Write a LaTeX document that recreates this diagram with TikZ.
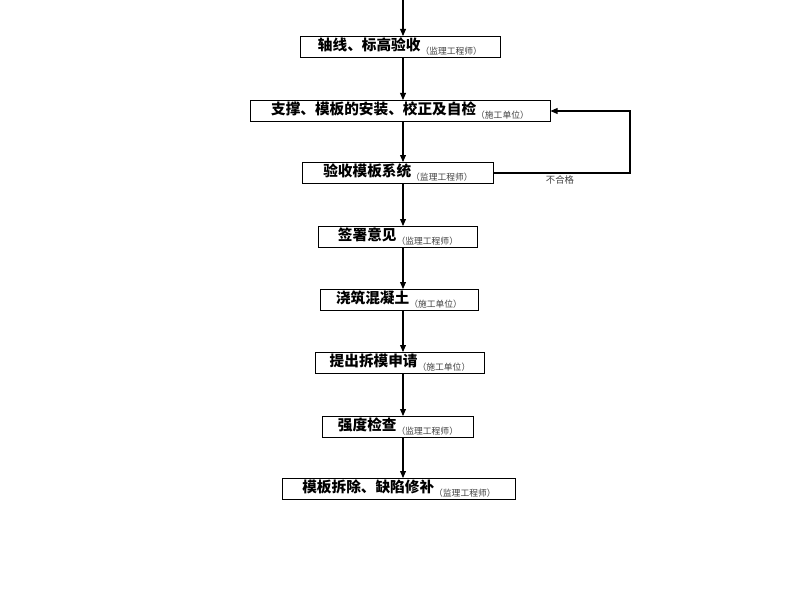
\documentclass[tikz,border=0pt]{standalone}
\usepackage{fontspec}
\setmainfont{Noto Sans CJK SC}
\usetikzlibrary{arrows.meta}
\tikzset{
  stage/.style={draw, line width=0.8pt, inner sep=0pt, minimum height=21*0.3mm, font=\fontsize{12.5}{13}\selectfont\bfseries},
  who/.style={font=\fontsize{7.5}{8}\selectfont\mdseries, text=black!75},
  flow/.style={-{Triangle[length=6pt,width=5pt]}, line width=0.9pt}
}
\newcommand{\role}[1]{\raisebox{-0.5ex}{\fontsize{7.5}{8}\selectfont\mdseries\color{black!75}（#1）}}
\begin{document}
\begin{tikzpicture}[x=0.3mm, y=-0.3mm]
  \useasboundingbox (0,0) rectangle (800,600);
  \coordinate (top) at (403,0);
  \node[stage, minimum width=200*0.3mm] (axis) at (400,47) {轴线、标高验收\role{监理工程师}};
  \node[stage, minimum width=300*0.3mm] (setup) at (400,111) {支撑、模板的安装、校正及自检\role{施工单位}};
  \node[stage, minimum width=191*0.3mm] (check) at (398,173) {验收模板系统\role{监理工程师}};
  \node[stage, minimum width=159*0.3mm] (sign) at (398,237) {签署意见\role{监理工程师}};
  \node[stage, minimum width=158*0.3mm] (pour) at (399,300) {浇筑混凝土\role{施工单位}};
  \node[stage, minimum width=169*0.3mm] (apply) at (400,363) {提出拆模申请\role{施工单位}};
  \node[stage, minimum width=151*0.3mm] (test) at (398,427) {强度检查\role{监理工程师}};
  \node[stage, minimum width=233*0.3mm] (strip) at (399,489) {模板拆除、缺陷修补\role{监理工程师}};

  % main line
  \draw[flow] (top) -- (top |- axis.north);
  \foreach \a/\b in {axis/setup, setup/check, check/sign, sign/pour, pour/apply, apply/test, test/strip}
    \draw[flow] (\a.south -| top) -- (\b.north -| top);

  % rework loop
  \coordinate (back) at (630,173);
  \draw[flow] (check.east) -- (back) -- (back |- setup.east) -- (setup.east);
  \node[who, font=\fontsize{8}{9}\selectfont] (fail) at (560,180) {不合格};
\end{tikzpicture}
\end{document}
